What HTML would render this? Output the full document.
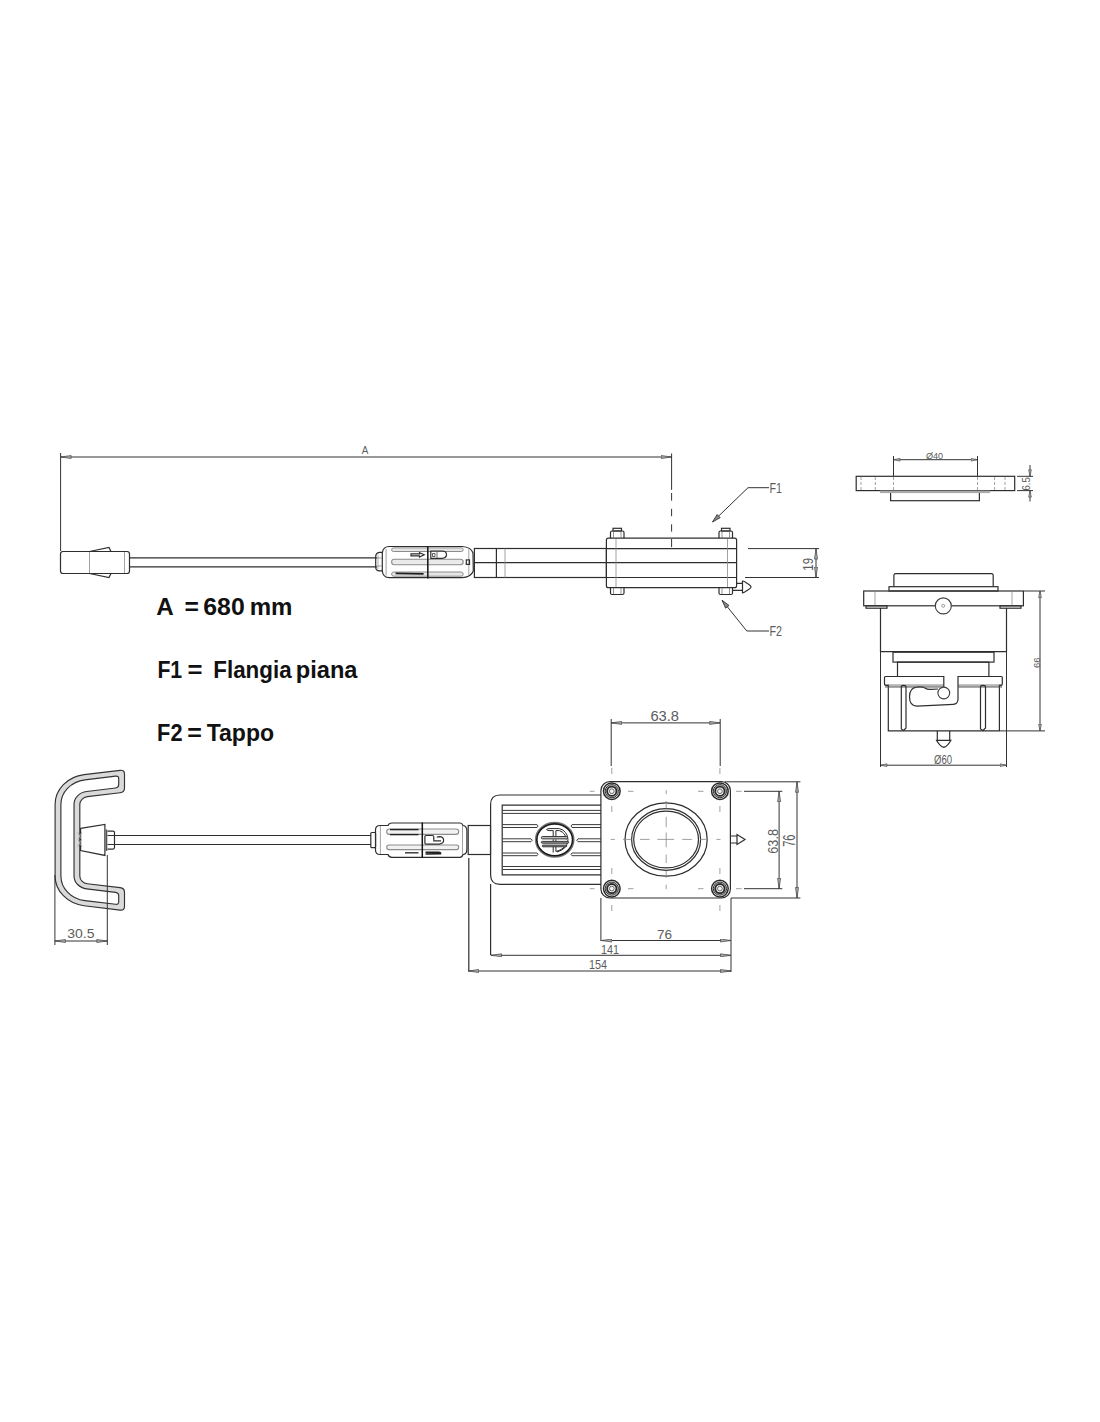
<!DOCTYPE html>
<html><head><meta charset="utf-8">
<style>
html,body{margin:0;padding:0;background:#fff;}
body{width:1100px;height:1422px;overflow:hidden;}
svg{display:block;}
.l{fill:none;stroke:#2e2e2e;stroke-width:1.2;}
.t{fill:none;stroke:#8a8a8a;stroke-width:0.8;}
.d{fill:none;stroke:#333;stroke-width:1;}
.c{fill:none;stroke:#777;stroke-width:0.8;stroke-dasharray:6 5;}
.dt{font-family:"Liberation Sans",sans-serif;fill:#5c5c5c;}
.bt{font-family:"Liberation Sans",sans-serif;font-weight:bold;fill:#111;font-size:23px;}
</style></head>
<body>
<svg width="1100" height="1422" viewBox="0 0 1100 1422">
<defs>
<marker id="ar" viewBox="0 0 11 4" refX="11" refY="2" markerWidth="11" markerHeight="4" markerUnits="userSpaceOnUse" orient="auto-start-reverse">
<path d="M0.5,0.5 L11,2 L0.5,3.5 Z" fill="#aaa" stroke="#444" stroke-width="0.7"/>
</marker>
<marker id="arl" viewBox="0 0 9 6" refX="9" refY="3" markerWidth="9" markerHeight="6" markerUnits="userSpaceOnUse" orient="auto">
<path d="M0.5,0.8 L9,3 L0.5,5.2 Z" fill="#888" stroke="#333" stroke-width="0.8"/>
</marker>
<marker id="ars" viewBox="0 0 7 4" refX="7" refY="2" markerWidth="7" markerHeight="4" markerUnits="userSpaceOnUse" orient="auto-start-reverse">
<path d="M0.5,0.6 L7,2 L0.5,3.4 Z" fill="#aaa" stroke="#444" stroke-width="0.6"/>
</marker>
</defs>

<!-- ===== TOP VIEW ===== -->
<g id="top">
<!-- dimension A -->
<line class="d" x1="60.6" y1="457" x2="671.6" y2="457" marker-start="url(#ar)" marker-end="url(#ar)"/>
<line class="d" x1="60.6" y1="453" x2="60.6" y2="551"/>
<line class="d" x1="671.6" y1="453.5" x2="671.6" y2="489.9"/>
<path class="d" d="M671.6,493 V500.7 M671.6,508.8 V516.2 M671.6,524.3 V531.6 M671.6,539 V547.1" stroke="#777"/>

<!-- left end plug -->
<rect class="l" x="60.5" y="551.5" width="69" height="22" rx="2.5"/>
<line class="t" x1="89.5" y1="552" x2="89.5" y2="573"/>
<line class="t" x1="124.5" y1="552" x2="124.5" y2="573"/>
<path class="l" d="M89.5,551.5 L109,547.5 L111,551.5"/>
<path class="l" d="M89.5,573.5 L109,577.5 L111,573.5"/>
<!-- cable -->
<line class="l" x1="130" y1="557.8" x2="377" y2="557.8"/>
<line class="l" x1="130" y1="566.8" x2="377" y2="566.8"/>

<!-- connector top -->
<path class="l" d="M382.3,552.3 L379.5,552.3 Q375.7,552.8 375.7,556.5 L375.7,567 Q375.7,570.7 379.5,570.9 L382.3,570.9"/>
<path d="M378,554.5 L378,569" stroke="#999" stroke-width="0.8"/>
<line class="t" x1="376.5" y1="558" x2="381.5" y2="558"/><line class="t" x1="376.5" y1="566" x2="381.5" y2="566"/>
<path class="l" d="M389.3,546.5 L462,546.5 Q471,547 473,553 L473.3,571 Q471,577.2 462,577.7 L389.3,577.7 Q383,577.7 382.3,571 L382.3,553 Q383,546.5 389.3,546.5 Z"/>
<line class="t" x1="386.1" y1="549" x2="386.1" y2="575.5"/>
<line class="t" x1="468.8" y1="549.5" x2="468.8" y2="575"/>
<rect x="391.6" y="547.9" width="71.6" height="3.6" rx="1.8" fill="#e6e6e6" stroke="#8c8c8c" stroke-width="1"/>
<rect x="391.6" y="559.3" width="71.6" height="5.4" rx="2.7" fill="#eaeaea" stroke="#8c8c8c" stroke-width="1.1"/>
<rect x="391.6" y="572" width="71.6" height="4.2" rx="2.1" fill="#e6e6e6" stroke="#8c8c8c" stroke-width="1"/>
<path d="M395.6,573.4 L423.6,573.8" stroke="#1e1e1e" stroke-width="1.8"/>
<line x1="427.8" y1="545.9" x2="427.8" y2="578.4" stroke="#1e1e1e" stroke-width="1.6"/>
<path class="l" d="M411,553.8 L419.5,553.8 L419.5,552.6 L424.2,554.8 L419.5,557 L419.5,555.8 L411,555.8 Z" stroke-width="0.9"/>
<path class="l" d="M430.8,551 L442,551 Q446.5,551 446.5,554.6 Q446.5,558.3 442,558.3 L430.8,558.3 Z" stroke-width="1"/>
<path d="M437,551.5 L437,557.8" stroke="#444" stroke-width="0.8"/>
<path d="M432.5,553.5 h2.5 v3 h-2.5 z" fill="none" stroke="#333" stroke-width="0.8"/>
<rect class="l" x="466.3" y="559.9" width="3.2" height="4.5" stroke-width="0.9"/>

<!-- shaft -->
<rect class="l" x="474.4" y="548.5" width="132" height="29"/>
<line class="l" x1="474.4" y1="562.6" x2="606.4" y2="562.6"/>
<line class="l" x1="496.4" y1="548.5" x2="496.4" y2="577.5"/>
<line class="t" x1="505" y1="548.5" x2="505" y2="577.5"/>

<!-- flange top view -->
<rect class="l" x="606.4" y="538.2" width="130.2" height="49.5" rx="2"/>
<line class="l" x1="606.4" y1="548.6" x2="736.6" y2="548.6"/>
<line class="l" x1="606.4" y1="562.7" x2="736.6" y2="562.7"/>
<line class="l" x1="606.4" y1="577.5" x2="736.6" y2="577.5"/>
<line class="t" x1="616" y1="539" x2="616" y2="587"/>
<line class="t" x1="727.5" y1="539" x2="727.5" y2="587"/>
<!-- bolts -->
<g class="l" stroke-width="1.1">
<path d="M610.5,538.2 L610.5,532.5 Q610.5,531 612,531 L622.5,531 Q624,531 624,532.5 L624,538.2"/>
<rect x="613" y="528.3" width="8.5" height="2.7"/>
<path d="M719,538.2 L719,532.5 Q719,531 720.5,531 L731,531 Q732.5,531 732.5,532.5 L732.5,538.2"/>
<rect x="721.5" y="528.3" width="8.5" height="2.7"/>
<path d="M610.5,587.7 L610.5,593 Q610.5,594.5 612,594.5 L622.5,594.5 Q624,594.5 624,593 L624,587.7"/>
<path d="M719,587.7 L719,593 Q719,594.5 720.5,594.5 L731,594.5 Q732.5,594.5 732.5,593 L732.5,587.7"/>
</g>
<g stroke="#777" stroke-width="0.8">
<path d="M613.5,531.5 V538 M621,531.5 V538 M722,531.5 V538 M729.5,531.5 V538"/>
<path d="M613.5,588 V594 M621,588 V594 M722,588 V594 M729.5,588 V594"/>
</g>
<!-- plug tip -->
<path class="l" d="M736.6,583.3 L742.5,583.3 M733,590.4 L742.5,590.4 M742.5,581 L742.5,592.8 Q744,592.8 747,590.5 Q751,588 751,586.9 Q751,585.8 747,583.3 Q744,581 742.5,581 Z" stroke-width="1.1"/>

<!-- F1 / F2 leaders -->
<polyline class="d" points="748,487.7 769,487.7"/>
<line class="d" x1="748" y1="487.7" x2="712.5" y2="522" marker-end="url(#arl)"/>
<polyline class="d" points="746.8,631 769,631"/>
<line class="d" x1="746.8" y1="631" x2="722" y2="600.2" marker-end="url(#arl)"/>

<!-- 19 dim -->
<line class="d" x1="748" y1="548.6" x2="819" y2="548.6"/>
<line class="d" x1="745" y1="577.5" x2="819" y2="577.5"/>
<line class="d" x1="816" y1="548.6" x2="816" y2="577.5" marker-start="url(#ar)" marker-end="url(#ar)"/>
</g>

<!-- ===== FLANGE SIDE VIEW ===== -->
<g id="fside">
<rect class="l" x="856.2" y="476.3" width="158.5" height="14.3"/>
<rect class="l" x="890.6" y="490.6" width="88.8" height="10.1"/>
<rect x="880" y="490.6" width="110" height="2.5" fill="#aaa"/>
<g class="t" stroke-dasharray="3 2">
<line x1="861" y1="477" x2="861" y2="490"/><line x1="875.3" y1="477" x2="875.3" y2="490"/>
<line x1="994.6" y1="477" x2="994.6" y2="490"/><line x1="1005" y1="477" x2="1005" y2="490"/>
<line x1="893.5" y1="477" x2="893.5" y2="490"/><line x1="977.5" y1="477" x2="977.5" y2="490"/>
</g>
<line class="d" x1="893.5" y1="459.7" x2="977.5" y2="459.7" marker-start="url(#ars)" marker-end="url(#ars)"/>
<line class="d" x1="893.5" y1="456" x2="893.5" y2="476"/>
<line class="d" x1="977.5" y1="456" x2="977.5" y2="476"/>
<line class="d" x1="1017" y1="476.3" x2="1033" y2="476.3"/>
<line class="d" x1="1017" y1="490.6" x2="1033" y2="490.6"/>
<line class="d" x1="1030" y1="465" x2="1030" y2="476.3" marker-end="url(#ars)"/><line class="d" x1="1030" y1="501.5" x2="1030" y2="490.6" marker-end="url(#ars)"/>
</g>

<!-- ===== FLANGE BODY VIEW ===== -->
<g id="fbody">
<path class="l" d="M893.9,586.7 L893.9,575.5 Q893.9,573.7 895.7,573.7 L991.4,573.7 Q993.2,573.7 993.2,575.5 L993.2,586.7" stroke-width="1.3"/>
<rect class="l" x="889" y="586.7" width="109" height="4.3"/>
<rect class="l" x="863.7" y="591" width="159.7" height="14.8"/>
<line class="t" x1="875" y1="591" x2="875" y2="605.8"/>
<line class="t" x1="1012" y1="591" x2="1012" y2="605.8"/>
<rect class="l" x="866" y="605.8" width="21" height="2.4"/>
<rect class="l" x="1000" y="605.8" width="21" height="2.4"/>
<path class="l" d="M880.5,608 L880.5,651.6 L1006.5,651.6 L1006.5,608"/>
<circle cx="943.3" cy="605.9" r="8" fill="#fff" stroke="#3c3c3c" stroke-width="1.1"/>
<circle cx="943.2" cy="605.8" r="1.5" fill="none" stroke="#888" stroke-width="0.8"/>
<line class="d" x1="880.5" y1="651.6" x2="880.5" y2="767"/>
<line class="d" x1="1006.5" y1="651.6" x2="1006.5" y2="767"/>
<rect class="l" x="893" y="652.2" width="101" height="9.9"/>
<path class="l" d="M897.5,676.5 L897.5,662.1 L988.9,662.1 L988.9,676.5"/>
<rect x="885" y="684.2" width="58.8" height="2.9" fill="#b5b5b5"/>
<rect x="958" y="684.2" width="44" height="2.9" fill="#b5b5b5"/>
<path class="l" d="M943.8,687.7 L943.8,676.5 L885.5,676.5 Q884.5,676.5 884.5,677.5 L884.5,684 Q884.5,685.4 886,685.4 L888.3,685.4 L888.3,730.9 L999.4,730.9 L999.4,685.4 L1001,685.4 Q1002.3,685.4 1002.3,684 L1002.3,677.5 Q1002.3,676.5 1001.3,676.5 L958,676.5 L958,699 Q958,704 953.3,704.3 L917,706.2 Q909.5,706 909.5,697 Q909.5,687.5 917,687.1 Q922,686.6 925,688 Q927,689.6 931,689.4 L938,689"/>
<circle cx="943.8" cy="693" r="5.9" fill="#fff" stroke="#3c3c3c" stroke-width="1.1"/>
<path d="M885,687.1 L943,687.1 M958,687.1 L1002,687.1" stroke="#555" stroke-width="0.8"/>
<path class="l" d="M901.3,729 L901.3,687 Q901.3,685.4 903.6,685.4 Q906,685.4 906,687 L906,728 L903.6,730.5 Z" stroke-width="1"/>
<path class="l" d="M980.5,729 L980.5,687 Q980.5,685.4 983,685.4 Q985.5,685.4 985.5,687 L985.5,728 L983,730.5 Z" stroke-width="1"/>
<path class="l" d="M937.3,730.9 L937.3,740.3 M949.7,730.9 L949.7,740.3 M936.5,740.3 L950.9,740.3 Q948,746 943.8,747.4 Q939.5,746 936.5,740.3 Z"/>
<line class="d" x1="1024" y1="591" x2="1045" y2="591"/>
<line class="d" x1="1000" y1="730.9" x2="1045" y2="730.9"/>
<line class="d" x1="1040" y1="591" x2="1040" y2="730.9" marker-start="url(#ars)" marker-end="url(#ars)"/>
<line class="d" x1="880.5" y1="765.2" x2="1006.5" y2="765.2" marker-start="url(#ars)" marker-end="url(#ars)"/>
</g>

<!-- ===== LABELS ===== -->
<g class="bt">
<text x="156.3" y="615" textLength="17.5" lengthAdjust="spacingAndGlyphs">A</text>
<text x="184.5" y="615" textLength="14.4" lengthAdjust="spacingAndGlyphs">=</text>
<text x="203.3" y="615" textLength="41.4" lengthAdjust="spacingAndGlyphs">680</text>
<text x="249.7" y="615" textLength="42.7" lengthAdjust="spacingAndGlyphs">mm</text>
<text x="157.4" y="677.5" textLength="24.8" lengthAdjust="spacingAndGlyphs">F1</text>
<text x="187.5" y="677.5" textLength="15.0" lengthAdjust="spacingAndGlyphs">=</text>
<text x="213.3" y="677.5" textLength="78.3" lengthAdjust="spacingAndGlyphs">Flangia</text>
<text x="295.8" y="677.5" textLength="61.7" lengthAdjust="spacingAndGlyphs">piana</text>
<text x="157.1" y="740.9" textLength="25.4" lengthAdjust="spacingAndGlyphs">F2</text>
<text x="187.2" y="740.9" textLength="14.6" lengthAdjust="spacingAndGlyphs">=</text>
<text x="206.7" y="740.9" textLength="67.4" lengthAdjust="spacingAndGlyphs">Tappo</text>
</g>
<!-- ===== BOTTOM VIEW ===== -->
<g id="bottom">
<!-- handle -->
<g transform="translate(55.1 0) scale(1.113 1) translate(-55.1 0)">
<path d="M113.45,770.34 L81.19,774.67 A30.10,30.10 0 0 0 55.10,804.50 L55.10,875.90 A30.10,30.10 0 0 0 81.19,905.73 L113.45,910.06 Q117.45,910.60 117.45,906.60 L117.45,892.20 Q117.45,888.20 113.45,887.66 L84.15,883.72 A7.90,7.90 0 0 1 77.30,875.90 L77.30,804.50 A7.90,7.90 0 0 1 84.15,796.68 L113.45,792.74 Q117.45,792.20 117.45,788.20 L117.45,773.80 Q117.45,769.80 113.45,770.34Z" fill="#dadada" stroke="#333" stroke-width="1.15" vector-effect="non-scaling-stroke"/>
<path d="M109.45,776.12 L81.89,779.83 A24.90,24.90 0 0 0 60.30,804.50 L60.30,875.90 A24.90,24.90 0 0 0 81.89,900.57 L109.45,904.28 Q112.25,904.65 112.25,901.85 L112.25,895.55 Q112.25,892.75 109.45,892.37 L83.46,888.88 A13.10,13.10 0 0 1 72.10,875.90 L72.10,804.50 A13.10,13.10 0 0 1 83.46,791.52 L109.45,788.03 Q112.25,787.65 112.25,784.85 L112.25,778.55 Q112.25,775.75 109.45,776.12Z" fill="#fff" stroke="#333" stroke-width="1.15" vector-effect="non-scaling-stroke"/>
</g>
<!-- cone & nut -->
<path class="l" d="M80.6,828.4 L104.9,824.5 L104.9,855.4 L80.6,850.5 Z" fill="#fff"/>
<path d="M77.5,832 L81.5,839.5 L77.5,847 M82,832 L78,839.5 L82,847" stroke="#aaa" stroke-width="0.8" fill="none"/>
<line x1="106.5" y1="829.5" x2="106.5" y2="851" stroke="#555" stroke-width="1.6"/>
<path class="l" d="M107.5,831.1 L113,831.1 Q114.5,831.1 114.5,832.6 L114.5,847.6 Q114.5,849.1 113,849.1 L107.5,849.1"/>
<!-- cable -->
<line class="l" x1="107.5" y1="835.5" x2="371" y2="835.5"/>
<line class="l" x1="107.5" y1="844.5" x2="371" y2="844.5"/>
<!-- connector bottom view -->
<rect class="l" x="370.8" y="832.5" width="4.8" height="15.2" rx="1"/>
<path class="l" d="M375.5,830 Q375.5,825.5 380,825.5 L388,825.5 Q389,823 392,823 L460,823 Q462,823 463,825.5 L463,825.5 Q466.9,826 466.9,831 L466.9,849 Q466.9,854.5 463,854.5 Q462,857.3 460,857.3 L392,857.3 Q389,857.3 388,854.5 L380,854.5 Q375.5,854.5 375.5,850 Z"/>
<line class="t" x1="380.4" y1="826" x2="380.4" y2="854"/>
<line class="t" x1="462.5" y1="826" x2="462.5" y2="854"/>
<rect x="386.7" y="829" width="72" height="5.4" rx="2.7" fill="#f2f2f2" stroke="#8c8c8c" stroke-width="1.1"/>
<rect x="386.7" y="845" width="72" height="4.6" rx="2.3" fill="#f2f2f2" stroke="#8c8c8c" stroke-width="1.1"/>
<line x1="390" y1="829.6" x2="418.5" y2="829.6" stroke="#222" stroke-width="1.4"/>
<line x1="390" y1="834.6" x2="418.5" y2="834.6" stroke="#222" stroke-width="1.4"/>
<line x1="422.3" y1="822.5" x2="422.3" y2="857.5" stroke="#111" stroke-width="1.5"/>
<path class="l" d="M425.8,835.5 L432.5,835.5 Q433.8,835.5 433.8,836.8 L433.8,840.9 L441,840.9 M425.8,835.5 Q424.9,835.5 424.9,836.5 L424.9,843 Q424.9,844.1 426,844.1 L439.5,844.1 Q443.6,843.5 443.6,840.3 Q443.6,836.8 439.5,836.6 L436.8,837.2" stroke-width="1.1"/>
<path d="M405,852.8 L418.5,852.8" stroke="#333" stroke-width="1.4"/>
<path d="M425.5,852.2 L438.5,852.2 Q441,852.4 440.5,853.6 L425.5,854" stroke="#222" stroke-width="1.6" fill="none"/>
<!-- right block -->
<rect class="l" x="468.2" y="825.5" width="22.3" height="29"/>
<line class="l" x1="468.8" y1="858" x2="468.8" y2="971"/>

<!-- housing -->
<path class="l" d="M601,795 L500,795 Q490.6,795 490.6,804.5 L490.6,875 Q490.6,884.3 500,884.3 L601,884.3"/>
<line class="l" x1="490.6" y1="884" x2="490.6" y2="955.3"/>
<path class="l" d="M601,805.1 L502.2,805.1 L502.2,874.8 L601,874.8"/>
<g stroke="#3c3c3c" stroke-width="1" fill="none">
<path d="M502.5,810.4 L601,810.4 M502.5,813.4 L601,813.4"/>
<path d="M502.5,866.5 L601,866.5 M502.5,869.5 L601,869.5"/>
<path d="M502.5,824.6 L537,824.6 Q539,826 537,827.5 L502.5,827.5 M601,824.6 L572,824.6 Q570,826 572,827.5 L601,827.5"/>
<path d="M502.5,838.8 L531,838.8 Q533.5,840.2 531,841.7 L502.5,841.7 M601,838.8 L578,838.8 Q575.5,840.2 578,841.7 L601,841.7"/>
<path d="M502.5,853 L537,853 Q539,854.4 537,855.7 L502.5,855.7 M601,853 L572,853 Q570,854.4 572,855.7 L601,855.7"/>
</g>
<!-- logo -->
<ellipse cx="554.7" cy="839.8" rx="19.2" ry="17.3" fill="#fff" stroke="#777" stroke-width="1.3"/>
<ellipse cx="554.7" cy="839.8" rx="17.9" ry="16" fill="none" stroke="#1a1a1a" stroke-width="1.7"/>
<g stroke="#2a2a2a" stroke-width="1" fill="none">
<path d="M546.5,829.6 Q547.5,828.6 549,828.6 L559.5,828.6 Q567.5,831 568,839.8 Q567.5,849 557,852"/>
<path d="M546.5,829.6 Q548,830.6 549,830.6 L553.2,830.6 L553.2,836.2 M555.9,836.2 L555.9,830.6 L559.5,830.6 Q565.8,833 566.2,839.5"/>
<path d="M553.2,845.3 L553.2,852.5 M555.9,845.3 L555.9,851.5 Q563,849.5 565.8,845.3"/>
<rect x="541.3" y="836.5" width="26.4" height="2.4" rx="1.2" fill="#bbb" stroke-width="0.9"/>
<rect x="541.3" y="841.4" width="27.4" height="1.8" rx="0.9" fill="#999" stroke-width="0.9"/>
<rect x="542.2" y="845.1" width="24.6" height="1.7" rx="0.85" fill="#999" stroke-width="0.9"/>
<path d="M553.2,839.4 V841 M555.9,839.4 V841" stroke="#2a2a2a"/>
</g>
<!-- square flange -->
<rect class="l" x="600.9" y="781.6" width="129.5" height="116.4" rx="9"/>
<g fill="none" stroke="#2a2a2a">
<circle cx="611.8" cy="791.2" r="8.3" stroke-width="1.5"/><circle cx="611.8" cy="791.2" r="6.6" fill="#bbb" stroke="#333" stroke-width="1"/><circle cx="611.8" cy="791.2" r="4.6" fill="#fff" stroke-width="1.8"/><circle cx="611.8" cy="791.2" r="2.4" fill="#f2f2f2" stroke="#555" stroke-width="0.9"/>
<circle cx="719.9" cy="791.2" r="8.3" stroke-width="1.5"/><circle cx="719.9" cy="791.2" r="6.6" fill="#bbb" stroke="#333" stroke-width="1"/><circle cx="719.9" cy="791.2" r="4.6" fill="#fff" stroke-width="1.8"/><circle cx="719.9" cy="791.2" r="2.4" fill="#f2f2f2" stroke="#555" stroke-width="0.9"/>
<circle cx="611.8" cy="888.6" r="8.3" stroke-width="1.5"/><circle cx="611.8" cy="888.6" r="6.6" fill="#bbb" stroke="#333" stroke-width="1"/><circle cx="611.8" cy="888.6" r="4.6" fill="#fff" stroke-width="1.8"/><circle cx="611.8" cy="888.6" r="2.4" fill="#f2f2f2" stroke="#555" stroke-width="0.9"/>
<circle cx="719.9" cy="888.6" r="8.3" stroke-width="1.5"/><circle cx="719.9" cy="888.6" r="6.6" fill="#bbb" stroke="#333" stroke-width="1"/><circle cx="719.9" cy="888.6" r="4.6" fill="#fff" stroke-width="1.8"/><circle cx="719.9" cy="888.6" r="2.4" fill="#f2f2f2" stroke="#555" stroke-width="0.9"/>
</g>
<ellipse cx="666.1" cy="839.5" rx="41.1" ry="36.7" class="l"/>
<ellipse cx="666.1" cy="839.5" rx="34.5" ry="30.8" class="l"/>
<ellipse cx="666.1" cy="839.5" rx="32.4" ry="28.4" class="l"/>
<!-- centerlines -->
<g stroke="#888" stroke-width="0.8" fill="none">
<path d="M611.8,768 V774 M611.8,806 V812 M611.8,868 V874 M611.8,905 V911"/>
<path d="M719.9,768 V774 M719.9,806 V812 M719.9,868 V874 M719.9,905 V911"/>
<path d="M666.2,790.2 V794.1 M666.2,801 V809.4 M666.2,816.8 V827.1 M666.2,832.5 V847.3 M666.2,854.6 V863 M666.2,870.9 V877.8 M666.2,884.7 V889.1"/>
<path d="M610.7,839.4 H614.8 M623,839.4 H631.8 M640,839.4 H649.6 M657.4,839.4 H674.1 M682.3,839.4 H691.9 M700,839.4 H708.2 M716.4,839.4 H720.5"/>
<path d="M589.8,791.3 H594.5 M628,791.3 H633.5 M698,791.3 H703.5 M736,791.3 H741.7"/>
<path d="M589.8,888.7 H594.5 M628,888.7 H633.5 M698,888.7 H703.5 M736,888.7 H741.7"/>
</g>
<!-- plug tip -->
<path class="l" d="M730.4,836 L737,836 M730.4,843 L737,843 M737,834.5 L737,844.5 Q741,842 745,839.5 Q741,837 737,834.5 Z" stroke-width="1"/>

<!-- dims -->
<line class="d" x1="611.2" y1="722.9" x2="720.2" y2="722.9" marker-start="url(#ar)" marker-end="url(#ar)"/>
<line class="d" x1="611.2" y1="719" x2="611.2" y2="766"/>
<line class="d" x1="720.2" y1="719" x2="720.2" y2="766"/>

<line class="d" x1="744" y1="791.3" x2="782.3" y2="791.3"/>
<line class="d" x1="744" y1="888.7" x2="782.3" y2="888.7"/>
<line class="d" x1="779.1" y1="791.3" x2="779.1" y2="888.7" marker-start="url(#ar)" marker-end="url(#ar)"/>
<line class="d" x1="725" y1="781.8" x2="800.4" y2="781.8"/>
<line class="d" x1="731" y1="898" x2="800.4" y2="898"/>
<line class="d" x1="797" y1="781.8" x2="797" y2="898" marker-start="url(#ar)" marker-end="url(#ar)"/>

<line class="d" x1="731" y1="898" x2="731" y2="972"/>
<line class="d" x1="600.9" y1="898" x2="600.9" y2="941"/>
<line class="d" x1="601.4" y1="940.5" x2="731" y2="940.5" marker-start="url(#ar)" marker-end="url(#ar)"/>
<line class="d" x1="491" y1="955.3" x2="731" y2="955.3" marker-start="url(#ar)" marker-end="url(#ar)"/>
<line class="d" x1="468.2" y1="971" x2="731" y2="971" marker-start="url(#ar)" marker-end="url(#ar)"/>

<line class="d" x1="54.9" y1="875" x2="54.9" y2="945"/>
<line class="d" x1="107.3" y1="855" x2="107.3" y2="945"/>
<line class="d" x1="54.9" y1="941" x2="107.3" y2="941" marker-start="url(#ar)" marker-end="url(#ar)"/>
</g>
<!--DIMTEXT-->
<g class="dt">
<text x="361.80" y="454.40" font-size="11.71" textLength="6.60" lengthAdjust="spacingAndGlyphs">A</text>
<text x="769.50" y="492.70" font-size="13.86" textLength="12.50" lengthAdjust="spacingAndGlyphs">F1</text>
<text x="769.50" y="636.00" font-size="13.86" textLength="12.50" lengthAdjust="spacingAndGlyphs">F2</text>
<text x="0" y="0" font-size="14.57" textLength="12.70" lengthAdjust="spacingAndGlyphs" transform="translate(812.70 570.70) rotate(-90)">19</text>
<text x="925.90" y="459.10" font-size="9.57" textLength="17.20" lengthAdjust="spacingAndGlyphs">Ø40</text>
<text x="0" y="0" font-size="11.00" textLength="13.40" lengthAdjust="spacingAndGlyphs" transform="translate(1030.00 490.60) rotate(-90)">6.5</text>
<text x="0" y="0" font-size="9.57" textLength="10.50" lengthAdjust="spacingAndGlyphs" transform="translate(1040.00 667.90) rotate(-90)">66</text>
<text x="934.00" y="764.30" font-size="12.29" textLength="18.10" lengthAdjust="spacingAndGlyphs">Ø60</text>
<text x="650.40" y="721.30" font-size="14.00" textLength="28.60" lengthAdjust="spacingAndGlyphs">63.8</text>
<text x="0" y="0" font-size="15.43" textLength="24.70" lengthAdjust="spacingAndGlyphs" transform="translate(777.60 853.70) rotate(-90)">63.8</text>
<text x="0" y="0" font-size="16.14" textLength="12.30" lengthAdjust="spacingAndGlyphs" transform="translate(794.80 846.80) rotate(-90)">76</text>
<text x="657.00" y="938.50" font-size="13.57" textLength="15.00" lengthAdjust="spacingAndGlyphs">76</text>
<text x="601.00" y="953.50" font-size="13.57" textLength="18.00" lengthAdjust="spacingAndGlyphs">141</text>
<text x="589.00" y="968.50" font-size="12.86" textLength="18.00" lengthAdjust="spacingAndGlyphs">154</text>
<text x="67.30" y="938.20" font-size="13.14" textLength="27.20" lengthAdjust="spacingAndGlyphs">30.5</text>
</g>
<!--/DIMTEXT-->
</svg>
</body></html>
